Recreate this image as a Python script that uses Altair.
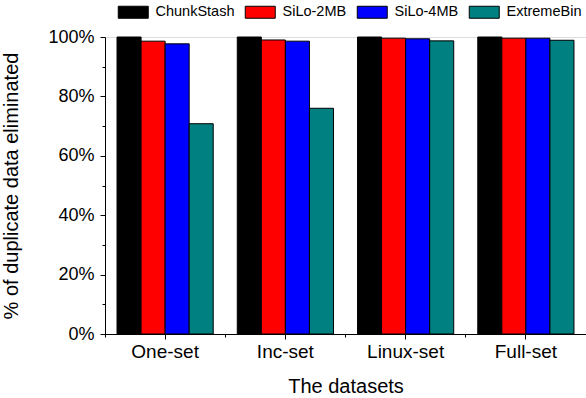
import altair as alt
import pandas as pd

datasets = ["One-set", "Inc-set", "Linux-set", "Full-set"]
series = ["ChunkStash", "SiLo-2MB", "SiLo-4MB", "ExtremeBin"]
colors = ["#000000", "#FF0000", "#0000FF", "#008080"]
chunkstash = [100.0, 100.0, 100.0, 100.0]
silo_2mb = [98.6, 99.0, 99.6, 99.6]
silo_4mb = [97.7, 98.6, 99.4, 99.6]
extremebin = [70.8, 76.0, 98.7, 98.9]
y_ticks = [0, 20, 40, 60, 80, 100]
y_minor = [10, 30, 50, 70, 90]

rows = []
for s, vals in zip(series, [chunkstash, silo_2mb, silo_4mb, extremebin]):
    for d, v in zip(datasets, vals):
        rows.append({"dataset": d, "series": s, "value": v})
df = pd.DataFrame(rows)

FONT = "Liberation Sans"
xscale = alt.Scale(domain=datasets, paddingInner=0.2, paddingOuter=0.1)
yscale = alt.Scale(domain=[0, 100], nice=False)

rect_path = "M-2.5,-1L2.5,-1L2.5,1L-2.5,1Z"

bars = alt.Chart(df).mark_bar(stroke="#000000", strokeWidth=1).encode(
    x=alt.X("dataset:N", sort=datasets, scale=xscale,
            axis=alt.Axis(title="The datasets", labelAngle=0, orient="bottom",
                          tickSize=5, labelPadding=3, labelFontSize=19,
                          titleFontSize=20, titlePadding=15, domainColor="#000",
                          tickColor="#000", labelColor="#000", titleColor="#000",
                          labelFont=FONT, titleFont=FONT, titleFontWeight="normal")),
    xOffset=alt.XOffset("series:N", sort=series),
    y=alt.Y("value:Q", scale=yscale,
            axis=alt.Axis(title="% of duplicate data eliminated", values=y_ticks,
                          labelExpr="datum.value + '%'", orient="left", tickSize=5,
                          labelPadding=6, labelFontSize=18, titleFontSize=20,
                          titlePadding=26, grid=False, domainColor="#000",
                          tickColor="#000", labelColor="#000", titleColor="#000",
                          labelFont=FONT, titleFont=FONT, titleFontWeight="normal")),
    color=alt.Color("series:N", sort=series,
                    scale=alt.Scale(domain=series, range=colors),
                    legend=alt.Legend(title=None, orient="none", direction="horizontal",
                                      legendX=21, legendY=-32,
                                      symbolType=rect_path, symbolSize=144,
                                      symbolStrokeColor="#000", symbolStrokeWidth=1,
                                      symbolOpacity=1, gridAlign="none",
                                      labelFontSize=14.5, labelFont=FONT,
                                      labelColor="#000", labelOffset=15,
                                      columnPadding=8)),
)

minor = alt.Chart(df).mark_point(opacity=0).encode(
    x=alt.X("dataset:N", sort=datasets, scale=xscale,
            axis=alt.Axis(title=None, labels=False, domain=False, orient="bottom",
                          tickSize=3, tickColor="#000", bandPosition=-0.125)),
    y=alt.Y("value:Q", scale=yscale,
            axis=alt.Axis(title=None, labels=False, domain=False, orient="left",
                          values=y_minor, tickSize=3, tickColor="#000", grid=False)),
)

chart = alt.layer(bars, minor).resolve_axis(x="independent", y="independent").properties(
    width=481, height=297,
    autosize=alt.AutoSizeParams(type="none"),
    padding={"left": 105, "top": 37, "right": 0, "bottom": 64},
).configure_view(stroke=None).configure(background="white")

chart.save("out.html", embed_options={"renderer": "svg", "actions": False})
